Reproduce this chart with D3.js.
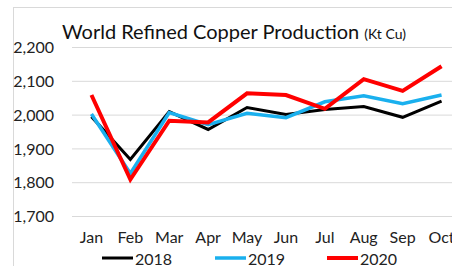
<!DOCTYPE html>
<html>
<head>
<meta charset="utf-8">
<script src="https://cdn.jsdelivr.net/npm/d3@7"></script>
<style>
  html, body { margin: 0; padding: 0; background: #fff; }
  svg { display: block; font-family: Lato, "Open Sans", sans-serif; }
</style>
</head>
<body>
<svg id="chart" width="452" height="266"></svg>
<script>
// chart data
var months = ['Jan', 'Feb', 'Mar', 'Apr', 'May', 'Jun', 'Jul', 'Aug', 'Sep', 'Oct'];
var years = ['2018', '2019', '2020'];
var prod2018 = [1994, 1867, 2009, 1956, 2021, 2000, 2015, 2024, 1992, 2040];
var prod2019 = [2002, 1826, 2006, 1970, 2004, 1991, 2038, 2056, 2032, 2058];
var prod2020 = [2058, 1808, 1982, 1977, 2063, 2058, 2017, 2105, 2070, 2143];
var yTicks = [1700, 1800, 1900, 2000, 2100, 2200];

var series = [
    { name: years[0], values: prod2018, color: '#000000', width: 3 },
    { name: years[1], values: prod2019, color: '#1ab0ee', width: 3.5 },
    { name: years[2], values: prod2020, color: '#ff0000', width: 4 }
];

var svg = d3.select('#chart');

// outer frame (cut off on right and bottom like the source)
svg.append('rect')
    .attr('x', 13.5).attr('y', 7.5)
    .attr('width', 460).attr('height', 280)
    .attr('fill', '#fff')
    .attr('stroke', '#d9d9d9');

// scales
var x = d3.scaleBand().domain(months).range([72, 461]).paddingInner(0).paddingOuter(0);
var y = d3.scaleLinear().domain([1700, 2200]).range([216, 47]);
var fmt = d3.format(',');

// gridlines
svg.append('g')
    .selectAll('line')
    .data(yTicks)
    .join('line')
    .attr('x1', 72).attr('x2', 461)
    .attr('y1', function(d) { return y(d) + 0.5; })
    .attr('y2', function(d) { return y(d) + 0.5; })
    .attr('stroke', '#d9d9d9')
    .attr('stroke-width', 1);

// y axis labels
var yAxis = svg.append('g')
    .attr('transform', 'translate(54,0)')
    .call(d3.axisLeft(y).tickValues(yTicks).tickFormat(fmt).tickSize(0).tickPadding(0));
yAxis.select('.domain').remove();
yAxis.selectAll('text')
    .attr('font-family', 'Lato, sans-serif')
    .attr('font-size', 16)
    .attr('fill', '#222')
    .attr('dy', '0.35em');

// x axis labels
var xAxis = svg.append('g')
    .attr('transform', 'translate(0,229)')
    .call(d3.axisBottom(x).tickSize(0).tickPadding(0));
xAxis.select('.domain').remove();
xAxis.selectAll('text')
    .attr('font-family', 'Lato, sans-serif')
    .attr('font-size', 16)
    .attr('fill', '#222')
    .attr('dy', '0.9em');

// lines
var line = d3.line()
    .x(function(d, i) { return x(months[i]) + x.bandwidth() / 2; })
    .y(function(d) { return y(d); });

svg.append('g')
    .selectAll('path')
    .data(series)
    .join('path')
    .attr('d', function(s) { return line(s.values); })
    .attr('fill', 'none')
    .attr('stroke', function(s) { return s.color; })
    .attr('stroke-width', function(s) { return s.width; })
    .attr('stroke-linejoin', 'miter');

// title
var title = svg.append('text')
    .attr('x', 62).attr('y', 39)
    .attr('font-family', 'Lato, sans-serif')
    .attr('fill', '#111');
title.append('tspan').attr('font-size', 20).text('World Refined Copper Production');
title.append('tspan').attr('font-size', 14).attr('dx', 5).text('(Kt Cu)');

// legend
var legendX = [102, 215, 327];
var legend = svg.append('g')
    .selectAll('g')
    .data(series)
    .join('g')
    .attr('transform', function(s, i) { return 'translate(' + legendX[i] + ',258)'; });
legend.append('line')
    .attr('x1', 0).attr('x2', 31)
    .attr('stroke', function(s) { return s.color; })
    .attr('stroke-width', function(s) { return s.width; });
legend.append('text')
    .attr('x', 33).attr('y', 7)
    .attr('font-family', 'Lato, sans-serif')
    .attr('font-size', 16)
    .attr('fill', '#222')
    .text(function(s) { return s.name; });
</script>
</body>
</html>
